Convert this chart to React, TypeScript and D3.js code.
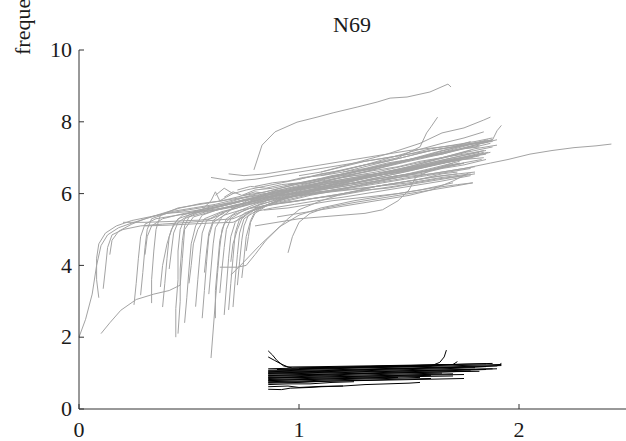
import React from "react";
import * as d3 from "d3";

type Pt = [number, number];

const title = "N69";
const yLabel = "frequency";
const xTicks = [0, 1, 2];
const yTicks = [0, 2, 4, 6, 8, 10];

// early trajectories rising near x = 0..0.2
const grayEarly: Pt[][] = [
  [[0.0,2.0],[0.03,2.5],[0.06,3.2],[0.08,4.0],[0.1,4.55],[0.13,4.85],[0.18,5.05],[0.25,5.2],[0.33,5.35],[0.42,5.5],[0.52,5.6],[0.62,5.7],[0.72,5.85],[0.82,5.95],[0.92,6.05],[1.02,6.15],[1.15,6.3],[1.3,6.45],[1.45,6.6],[1.6,6.8],[1.72,6.95]],
  [[0.1,2.1],[0.14,2.4],[0.19,2.75],[0.26,3.05],[0.34,3.2],[0.41,3.3],[0.46,3.45],[0.47,4.2],[0.48,5.0],[0.52,5.35],[0.6,5.5],[0.7,5.65],[0.8,5.8],[0.9,5.95],[1.0,6.05],[1.15,6.2],[1.3,6.35],[1.45,6.5],[1.6,6.65],[1.75,6.85]],
  [[0.09,3.1],[0.08,3.6],[0.08,4.2],[0.09,4.6],[0.12,4.9],[0.17,5.1],[0.24,5.25],[0.32,5.35],[0.4,5.45],[0.5,5.5],[0.6,5.6],[0.7,5.75],[0.8,5.9],[0.9,6.0],[1.0,6.15],[1.12,6.3],[1.25,6.45],[1.4,6.6],[1.55,6.8],[1.7,7.0],[1.82,7.15]],
  [[0.11,3.35],[0.12,3.9],[0.13,4.5],[0.15,4.85],[0.2,5.0],[0.28,5.1],[0.38,5.15],[0.5,5.2],[0.6,5.25],[0.7,5.3],[0.78,5.5],[0.88,5.75],[1.0,5.95],[1.1,6.05],[1.25,6.2],[1.4,6.35],[1.55,6.5],[1.7,6.65],[1.8,6.75]],
  [[0.14,4.3],[0.15,4.7],[0.18,4.95],[0.24,5.15],[0.3,5.3],[0.38,5.45],[0.46,5.6],[0.55,5.72],[0.65,5.8],[0.75,5.9],[0.85,6.0],[0.95,6.1],[1.05,6.25],[1.2,6.45],[1.35,6.6],[1.5,6.8],[1.65,7.0],[1.78,7.2]],
];

// flat segments on the left plateau
const grayPlateau: Pt[][] = [
  [[0.2,5.2],[0.3,5.2],[0.4,5.22],[0.5,5.25],[0.55,5.26],[0.6,5.3],[0.66,5.45]],
  [[0.3,5.1],[0.4,5.12],[0.5,5.15],[0.6,5.18],[0.7,5.2],[0.75,5.35]],
  [[0.55,5.5],[0.6,5.8],[0.62,6.05],[0.64,5.8],[0.67,5.9],[0.7,6.0]],
];

// steep risers between x = 0.25 and 0.8
const grayRisers: Pt[][] = [
  [[0.28,3.17],[0.29,3.8],[0.3,4.5],[0.31,5.0],[0.33,5.3],[0.4,5.45],[0.5,5.55],[0.6,5.65],[0.7,5.75],[0.8,5.9],[0.9,6.0],[1.0,6.1],[1.15,6.25],[1.3,6.45],[1.45,6.6],[1.6,6.8],[1.75,7.0],[1.85,7.1]],
  [[0.33,2.95],[0.33,3.6],[0.34,4.4],[0.35,5.0],[0.37,5.4],[0.45,5.6],[0.55,5.7],[0.65,5.8],[0.75,5.95],[0.85,6.05],[0.95,6.2],[1.05,6.35],[1.2,6.55],[1.35,6.75],[1.5,6.95],[1.65,7.15],[1.8,7.4],[1.88,7.5]],
  [[0.37,3.4],[0.38,4.0],[0.4,4.6],[0.42,5.0],[0.45,5.3],[0.52,5.45],[0.62,5.55],[0.72,5.7],[0.82,5.8],[0.92,5.9],[1.02,5.95],[1.15,6.05],[1.3,6.15],[1.45,6.3],[1.6,6.45],[1.72,6.55]],
  [[0.44,2.0],[0.44,2.8],[0.45,3.6],[0.45,4.4],[0.46,5.0],[0.48,5.3],[0.55,5.5],[0.65,5.65],[0.75,5.8],[0.85,5.95],[0.95,6.1],[1.05,6.25],[1.2,6.4],[1.35,6.55],[1.5,6.7],[1.65,6.9],[1.8,7.05]],
  [[0.45,2.1],[0.46,3.0],[0.46,3.9],[0.47,4.7],[0.48,5.1],[0.5,5.35],[0.58,5.5],[0.68,5.6],[0.78,5.7],[0.88,5.85],[0.98,6.0],[1.1,6.15],[1.25,6.3],[1.4,6.45],[1.55,6.6],[1.7,6.8],[1.83,6.95]],
  [[0.5,3.5],[0.51,4.0],[0.52,4.6],[0.54,5.0],[0.57,5.3],[0.65,5.5],[0.75,5.65],[0.85,5.85],[0.95,6.0],[1.05,6.15],[1.2,6.3],[1.35,6.5],[1.5,6.65],[1.65,6.85],[1.78,7.05]],
  [[0.53,2.85],[0.54,3.6],[0.55,4.3],[0.56,4.9],[0.58,5.25],[0.64,5.45],[0.72,5.6],[0.82,5.85],[0.92,6.0],[1.02,6.15],[1.15,6.4],[1.3,6.6],[1.45,6.85],[1.6,7.1],[1.75,7.35],[1.86,7.5]],
  [[0.56,2.53],[0.57,3.3],[0.58,4.1],[0.59,4.8],[0.61,5.2],[0.66,5.4],[0.74,5.55],[0.84,5.65],[0.94,5.75],[1.04,5.85],[1.18,5.95],[1.32,6.1],[1.48,6.25],[1.62,6.4],[1.75,6.5]],
  [[0.6,1.42],[0.61,2.2],[0.62,3.0],[0.63,3.8],[0.64,4.5],[0.65,5.0],[0.67,5.3],[0.72,5.5],[0.8,5.7],[0.9,5.9],[1.0,6.05],[1.12,6.2],[1.25,6.35],[1.4,6.55],[1.55,6.75],[1.7,6.95],[1.84,7.15]],
  [[0.62,2.53],[0.62,3.3],[0.63,4.0],[0.64,4.7],[0.66,5.15],[0.7,5.4],[0.78,5.6],[0.88,5.8],[0.98,6.0],[1.08,6.15],[1.2,6.35],[1.35,6.55],[1.5,6.75],[1.65,7.0],[1.8,7.25],[1.9,7.35]],
  [[0.64,3.23],[0.65,3.9],[0.66,4.5],[0.67,5.0],[0.69,5.3],[0.74,5.5],[0.82,5.7],[0.92,5.85],[1.02,6.0],[1.12,6.15],[1.25,6.3],[1.4,6.5],[1.55,6.7],[1.7,6.9],[1.82,7.05]],
  [[0.66,2.62],[0.67,3.4],[0.68,4.2],[0.69,4.8],[0.71,5.2],[0.75,5.45],[0.83,5.65],[0.93,5.8],[1.03,5.95],[1.15,6.1],[1.3,6.25],[1.45,6.45],[1.6,6.65],[1.75,6.85]],
  [[0.68,2.76],[0.69,3.5],[0.7,4.2],[0.71,4.9],[0.73,5.3],[0.78,5.5],[0.86,5.7],[0.96,5.9],[1.06,6.05],[1.18,6.2],[1.32,6.4],[1.48,6.6],[1.62,6.8],[1.76,7.0],[1.87,7.15]],
  [[0.7,2.84],[0.71,3.6],[0.72,4.3],[0.73,4.9],[0.75,5.3],[0.8,5.5],[0.88,5.6],[0.98,5.7],[1.08,5.8],[1.2,5.9],[1.35,6.05],[1.5,6.2],[1.65,6.35],[1.78,6.5]],
  [[0.72,3.45],[0.73,4.1],[0.74,4.7],[0.75,5.1],[0.77,5.4],[0.82,5.7],[0.9,5.95],[1.0,6.15],[1.1,6.3],[1.22,6.5],[1.36,6.7],[1.5,6.9],[1.65,7.1],[1.8,7.35],[1.9,7.5]],
  [[0.74,3.65],[0.75,4.2],[0.76,4.8],[0.78,5.25],[0.8,5.5],[0.86,5.7],[0.94,5.9],[1.04,6.05],[1.15,6.2],[1.28,6.4],[1.42,6.6],[1.56,6.8],[1.7,7.0],[1.84,7.2]],
  [[0.48,2.4],[0.49,3.1],[0.5,3.9],[0.51,4.6],[0.53,5.1],[0.56,5.4],[0.63,5.55],[0.73,5.7],[0.83,5.85],[0.93,6.0],[1.03,6.15],[1.15,6.3],[1.3,6.45],[1.45,6.6],[1.6,6.8],[1.74,6.95]],
  [[0.41,3.9],[0.42,4.4],[0.43,4.9],[0.45,5.2],[0.5,5.4],[0.58,5.6],[0.68,5.75],[0.78,5.95],[0.88,6.1],[0.98,6.25],[1.1,6.4],[1.25,6.6],[1.4,6.8],[1.55,7.0],[1.7,7.2],[1.82,7.35]],
  [[0.38,2.84],[0.39,3.5],[0.4,4.2],[0.41,4.8],[0.43,5.15],[0.47,5.4],[0.55,5.55],[0.65,5.65],[0.75,5.8],[0.85,5.9],[0.95,6.05],[1.05,6.2],[1.2,6.35],[1.35,6.5],[1.5,6.65],[1.65,6.85],[1.79,7.0]],
  [[0.25,2.9],[0.26,3.5],[0.27,4.2],[0.28,4.8],[0.3,5.15],[0.35,5.3],[0.45,5.4],[0.55,5.5],[0.65,5.6],[0.75,5.7],[0.85,5.8],[0.95,5.9],[1.05,6.0],[1.2,6.1],[1.35,6.2],[1.5,6.3],[1.65,6.45],[1.78,6.55]],
  [[0.3,4.3],[0.31,4.8],[0.33,5.1],[0.38,5.3],[0.48,5.45],[0.58,5.55],[0.68,5.7],[0.78,5.85],[0.88,5.95],[0.98,6.1],[1.1,6.25],[1.25,6.4],[1.4,6.55],[1.55,6.75],[1.7,6.95],[1.8,7.05]],
  [[0.57,3.8],[0.58,4.4],[0.59,4.9],[0.61,5.25],[0.65,5.45],[0.72,5.65],[0.8,5.85],[0.9,6.05],[1.0,6.2],[1.12,6.4],[1.26,6.6],[1.4,6.8],[1.55,7.0],[1.7,7.2],[1.86,7.45]],
  [[0.59,3.2],[0.6,3.9],[0.61,4.6],[0.62,5.05],[0.65,5.35],[0.7,5.6],[0.78,5.85],[0.88,6.05],[0.98,6.2],[1.08,6.35],[1.2,6.55],[1.35,6.75],[1.5,6.95],[1.65,7.2],[1.8,7.4],[1.88,7.5]],
  [[0.69,4.1],[0.7,4.6],[0.72,5.0],[0.74,5.3],[0.78,5.5],[0.85,5.65],[0.95,5.8],[1.05,5.95],[1.18,6.1],[1.32,6.3],[1.46,6.5],[1.6,6.7],[1.73,6.9]],
  [[0.76,4.4],[0.77,4.8],[0.78,5.2],[0.8,5.45],[0.85,5.65],[0.92,5.85],[1.0,6.0],[1.1,6.15],[1.22,6.35],[1.36,6.55],[1.5,6.75],[1.63,6.95],[1.76,7.15],[1.88,7.3]],
];

// trajectories that begin inside the main band
const grayBand: Pt[][] = [
  [[0.75,5.95],[0.8,6.05],[0.85,6.0],[0.9,6.1],[0.95,6.05],[1.0,6.15],[1.1,6.2],[1.2,6.3],[1.25,6.28],[1.35,6.4],[1.45,6.5],[1.55,6.55],[1.65,6.7],[1.75,6.8],[1.85,6.95]],
  [[0.72,6.1],[0.78,6.2],[0.85,6.15],[0.92,6.25],[1.0,6.3],[1.08,6.4],[1.15,6.45],[1.25,6.55],[1.35,6.65],[1.45,6.75],[1.55,6.9],[1.65,7.0],[1.75,7.1],[1.85,7.2]],
  [[0.78,5.8],[0.85,5.9],[0.92,5.85],[1.0,5.95],[1.08,6.05],[1.18,6.1],[1.28,6.2],[1.38,6.3],[1.48,6.4],[1.58,6.5],[1.68,6.6],[1.78,6.7]],
  [[0.8,6.2],[0.88,6.3],[0.95,6.35],[1.02,6.45],[1.1,6.5],[1.2,6.6],[1.3,6.7],[1.4,6.85],[1.5,6.95],[1.6,7.05],[1.7,7.2],[1.8,7.3],[1.87,7.4]],
  [[0.7,5.75],[0.76,5.85],[0.82,5.8],[0.9,5.95],[0.98,6.0],[1.06,6.1],[1.15,6.15],[1.25,6.25],[1.35,6.35],[1.45,6.45],[1.55,6.6],[1.65,6.75],[1.73,6.85]],
  [[0.88,6.05],[0.95,6.15],[1.02,6.2],[1.1,6.3],[1.18,6.35],[1.28,6.45],[1.38,6.6],[1.48,6.7],[1.58,6.8],[1.68,6.95],[1.78,7.05],[1.86,7.15]],
  [[0.66,5.9],[0.7,6.05],[0.74,5.95],[0.8,6.1],[0.88,6.15],[0.96,6.25],[1.05,6.35],[1.15,6.5],[1.25,6.6],[1.35,6.7],[1.45,6.85],[1.55,7.0],[1.65,7.1],[1.75,7.25],[1.82,7.3]],
  [[0.92,5.75],[1.0,5.8],[1.1,5.9],[1.2,6.0],[1.3,6.1],[1.4,6.15],[1.5,6.25],[1.6,6.35],[1.7,6.45],[1.8,6.55]],
  [[0.62,5.95],[0.66,6.15],[0.7,6.0],[0.76,6.1],[0.84,6.2],[0.92,6.3],[1.0,6.4],[1.1,6.55],[1.2,6.65],[1.3,6.8],[1.4,6.9],[1.5,7.05],[1.6,7.2],[1.7,7.3],[1.78,7.45]],
  [[0.8,5.6],[0.87,5.7],[0.95,5.75],[1.05,5.85],[1.15,5.95],[1.25,6.05],[1.35,6.2],[1.45,6.3],[1.55,6.4],[1.65,6.55],[1.72,6.6]],
  [[1.0,6.5],[1.1,6.6],[1.2,6.75],[1.3,6.9],[1.4,7.0],[1.5,7.1],[1.6,7.25],[1.7,7.35],[1.8,7.45],[1.88,7.55]],
  [[0.95,6.25],[1.05,6.3],[1.15,6.4],[1.25,6.5],[1.35,6.55],[1.45,6.65],[1.55,6.75],[1.65,6.85],[1.75,6.95],[1.84,7.0]],
];

// diagonal and lower-edge trajectories
const grayDiagonal: Pt[][] = [
  [[0.64,3.95],[0.68,3.95],[0.72,3.95],[0.76,4.0],[0.8,4.3],[0.85,4.7],[0.9,5.0],[0.95,5.3],[1.0,5.55],[1.1,5.8],[1.2,6.0],[1.35,6.2],[1.5,6.35],[1.65,6.5],[1.8,6.6]],
  [[0.95,4.35],[0.97,4.8],[1.0,5.2],[1.05,5.45],[1.12,5.6],[1.25,5.75],[1.4,5.9],[1.55,6.05],[1.7,6.2],[1.79,6.3]],
  [[0.69,3.73],[0.75,4.1],[0.82,4.55],[0.91,5.07],[1.0,5.4],[1.1,5.6],[1.25,5.8],[1.4,5.95],[1.55,6.1],[1.7,6.3]],
  [[0.8,5.1],[0.9,5.2],[1.0,5.3],[1.1,5.35],[1.2,5.4],[1.3,5.45],[1.38,5.55],[1.45,5.8],[1.5,6.1],[1.53,6.45],[1.6,6.65],[1.7,6.85]],
  [[0.84,5.54],[0.95,5.6],[1.05,5.7],[1.15,5.8],[1.3,5.9],[1.45,6.0],[1.6,6.15],[1.72,6.25],[1.79,6.3]],
  [[0.9,5.35],[1.0,5.45],[1.1,5.55],[1.2,5.65],[1.35,5.8],[1.5,5.95],[1.6,6.1],[1.7,6.35],[1.77,6.57]],
];

// upper trajectories and outliers
const grayUpper: Pt[][] = [
  [[0.795,6.66],[0.832,7.35],[0.891,7.72],[0.991,7.99],[1.082,8.13],[1.155,8.25],[1.264,8.41],[1.355,8.55],[1.414,8.66],[1.491,8.69],[1.595,8.83],[1.677,9.05],[1.691,8.97]],
  [[0.85,5.9],[1.0,6.0],[1.15,6.15],[1.3,6.3],[1.45,6.45],[1.6,6.55],[1.75,6.7],[1.87,6.85],[1.95,6.95],[2.05,7.1],[2.15,7.2],[2.25,7.28],[2.35,7.33],[2.42,7.38]],
  [[1.0,6.4],[1.15,6.6],[1.3,6.8],[1.45,7.0],[1.55,7.3],[1.58,7.69],[1.6,7.86],[1.63,8.13]],
  [[1.1,6.6],[1.25,6.85],[1.4,7.1],[1.55,7.4],[1.65,7.69],[1.75,7.83],[1.84,8.05],[1.87,8.13]],
  [[1.2,6.6],[1.4,6.9],[1.6,7.2],[1.75,7.35],[1.85,7.42],[1.88,7.5],[1.9,7.75],[1.92,7.9]],
  [[1.1,6.5],[1.3,6.8],[1.5,7.15],[1.65,7.4],[1.75,7.55],[1.84,7.72]],
  [[0.6,6.45],[0.65,6.4],[0.7,6.35],[0.8,6.4],[0.9,6.5],[1.0,6.6],[1.1,6.7],[1.25,6.85],[1.4,7.0],[1.55,7.15],[1.7,7.3],[1.85,7.45]],
  [[0.68,6.55],[0.75,6.5],[0.85,6.55],[0.95,6.65],[1.05,6.75],[1.2,6.9],[1.35,7.05],[1.5,7.2],[1.65,7.3],[1.78,7.4],[1.88,7.45]],
];

// black low-frequency trajectories
const blackLines: Pt[][] = [
  [[0.86,1.12],[1.0,1.14],[1.15,1.16],[1.3,1.18],[1.45,1.2],[1.6,1.22],[1.75,1.25],[1.88,1.27]],
  [[0.86,1.08],[1.0,1.1],[1.2,1.13],[1.4,1.16],[1.6,1.19],[1.8,1.22],[1.92,1.24]],
  [[0.86,1.04],[1.05,1.06],[1.25,1.09],[1.45,1.12],[1.65,1.15],[1.85,1.18]],
  [[0.86,1.0],[1.05,1.03],[1.25,1.06],[1.45,1.09],[1.65,1.12],[1.8,1.15]],
  [[0.86,0.97],[1.1,1.0],[1.3,1.03],[1.5,1.06],[1.7,1.09],[1.9,1.12]],
  [[0.86,0.94],[1.1,0.97],[1.3,1.0],[1.5,1.04],[1.7,1.07],[1.85,1.1]],
  [[0.86,0.91],[1.1,0.94],[1.3,0.98],[1.5,1.01],[1.7,1.04],[1.78,1.06]],
  [[0.86,0.88],[1.1,0.92],[1.3,0.95],[1.5,0.98],[1.65,1.0]],
  [[0.86,0.85],[1.1,0.89],[1.3,0.92],[1.5,0.95],[1.7,0.98]],
  [[0.86,0.82],[1.1,0.86],[1.3,0.89],[1.5,0.92],[1.6,0.94]],
  [[0.86,0.79],[1.1,0.83],[1.3,0.86],[1.45,0.88]],
  [[0.86,0.76],[1.0,0.78],[1.2,0.82],[1.4,0.85],[1.55,0.88]],
  [[0.86,0.72],[1.0,0.74],[1.15,0.78],[1.3,0.8],[1.45,0.83],[1.6,0.85]],
  [[0.86,0.68],[0.95,0.7],[1.05,0.7],[1.15,0.74],[1.25,0.76]],
  [[0.86,0.62],[0.95,0.64],[1.0,0.6],[1.1,0.63],[1.2,0.64],[1.3,0.68],[1.4,0.7],[1.5,0.72],[1.55,0.74]],
  [[0.86,0.55],[0.92,0.54],[0.96,0.58],[1.05,0.6],[1.1,0.62],[1.2,0.64]],
  [[0.86,1.62],[0.88,1.5],[0.9,1.35],[0.93,1.2],[0.97,1.14],[1.1,1.16],[1.3,1.18],[1.5,1.21],[1.7,1.24],[1.85,1.26]],
  [[0.86,1.45],[0.89,1.35],[0.92,1.25],[0.95,1.17],[1.1,1.18],[1.3,1.2],[1.5,1.22],[1.68,1.24]],
  [[0.9,1.1],[1.1,1.13],[1.3,1.16],[1.5,1.18],[1.6,1.2],[1.64,1.3],[1.66,1.45],[1.67,1.64]],
  [[1.0,1.12],[1.2,1.15],[1.4,1.18],[1.6,1.2],[1.7,1.24],[1.72,1.32]],
  [[0.86,1.02],[1.1,1.05],[1.35,1.1],[1.6,1.14],[1.8,1.17],[1.9,1.2],[1.92,1.27]],
  [[0.86,0.99],[1.2,1.03],[1.5,1.07],[1.75,1.1],[1.88,1.12]],
  [[0.86,0.93],[1.15,0.97],[1.45,1.01],[1.7,1.04],[1.82,1.05]],
  [[0.86,0.87],[1.2,0.9],[1.5,0.94],[1.75,0.96]],
  [[0.86,1.06],[1.2,1.1],[1.55,1.15],[1.85,1.2],[1.92,1.21]],
  [[0.86,0.8],[1.2,0.85],[1.5,0.9],[1.7,0.92]],
  [[0.86,0.74],[1.1,0.77],[1.35,0.8],[1.6,0.83],[1.75,0.85]],
];

const W = 626;
const H = 441;
const FONT = "Liberation Serif, DejaVu Serif, serif";

export default function App() {
  const x = d3.scaleLinear().domain([0, 2.5]).range([79, 629]);
  const y = d3.scaleLinear().domain([0, 10]).range([409, 50]);
  const line = d3
    .line<Pt>()
    .x((d) => x(d[0]))
    .y((d) => y(d[1]));

  const gray = [...grayEarly, ...grayPlateau, ...grayRisers, ...grayBand, ...grayDiagonal, ...grayUpper];
  const txt = { fontFamily: FONT, fill: "#1a1a1a" } as React.CSSProperties;

  return (
    <svg
      width={W}
      height={H}
      style={{ position: "fixed", left: 0, top: 0, background: "#fff" }}
    >
      <rect x={0} y={0} width={W} height={H} fill="#fff" />
      <g fill="none" stroke="#a3a3a3" strokeWidth={1}>
        {gray.map((d, i) => (
          <path key={"g" + i} d={line(d) || ""} />
        ))}
      </g>
      <g fill="none" stroke="#000" strokeWidth={1}>
        {blackLines.map((d, i) => (
          <path key={"k" + i} d={line(d) || ""} />
        ))}
      </g>
      <g stroke="#333" strokeWidth={1} fill="none">
        <line x1={x(0)} x2={x(0)} y1={y(10)} y2={y(0)} />
        <line x1={x(0)} x2={W} y1={y(0)} y2={y(0)} />
        {yTicks.map((t) => (
          <line key={"yt" + t} x1={x(0)} x2={x(0) + 5} y1={y(t)} y2={y(t)} />
        ))}
        {xTicks.map((t) => (
          <line key={"xt" + t} x1={x(t)} x2={x(t)} y1={y(0)} y2={y(0) - 5} />
        ))}
      </g>
      {yTicks.map((t) => (
        <text key={"yl" + t} x={x(0) - 7} y={y(t)} dy="0.33em" textAnchor="end" fontSize={22} style={txt}>
          {t}
        </text>
      ))}
      {xTicks.map((t) => (
        <text key={"xl" + t} x={x(t)} y={437} textAnchor="middle" fontSize={22} style={txt}>
          {t}
        </text>
      ))}
      <text x={352} y={32} textAnchor="middle" fontSize={22} style={txt}>
        {title}
      </text>
      <text transform="translate(30,55) rotate(-90)" textAnchor="start" fontSize={22} style={txt}>
        {yLabel}
      </text>
    </svg>
  );
}
